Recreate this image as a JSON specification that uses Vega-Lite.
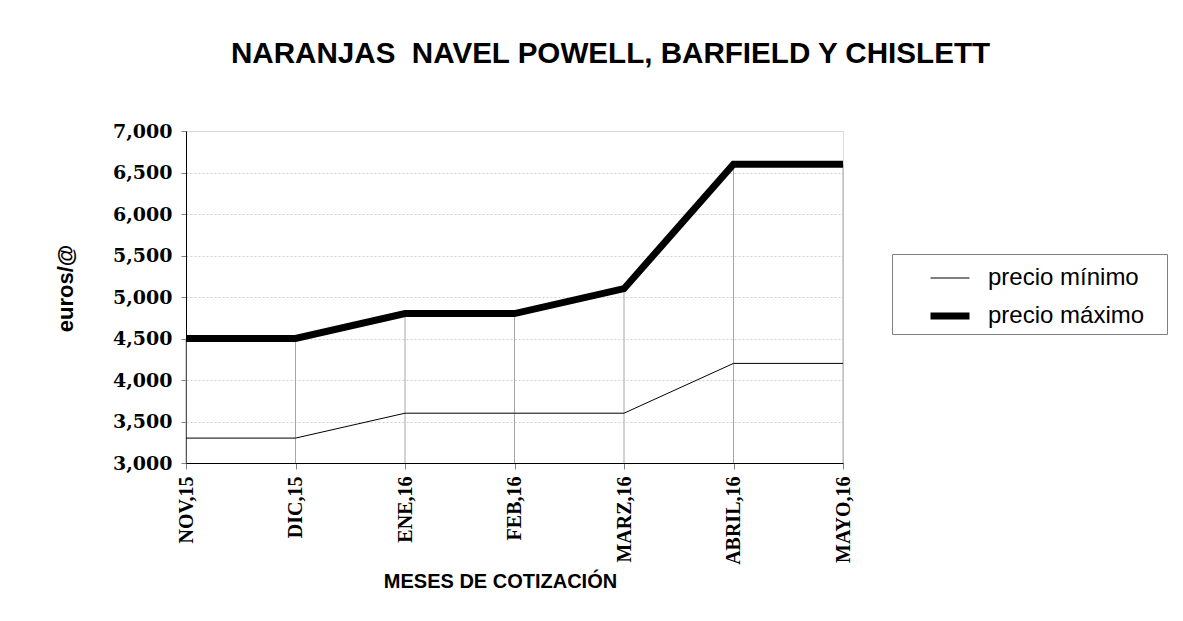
{
  "$schema": "https://vega.github.io/schema/vega-lite/v6.json",
  "autosize": {"type": "none"},
  "padding": {"left": 186, "top": 131, "right": 340, "bottom": 158},
  "width": 657,
  "height": 332,
  "background": "white",
  "title": {
    "text": "NARANJAS\u00a0 NAVEL POWELL, BARFIELD Y CHISLETT",
    "font": "Liberation Sans",
    "fontSize": 29.6,
    "fontWeight": "bold",
    "color": "black",
    "anchor": "middle",
    "frame": "group",
    "dx": 96,
    "offset": 52
  },
  "data": {
    "values": [
      {"mes": "NOV,15", "serie": "precio mínimo", "valor": 3300},
      {"mes": "DIC,15", "serie": "precio mínimo", "valor": 3300},
      {"mes": "ENE,16", "serie": "precio mínimo", "valor": 3600},
      {"mes": "FEB,16", "serie": "precio mínimo", "valor": 3600},
      {"mes": "MARZ,16", "serie": "precio mínimo", "valor": 3600},
      {"mes": "ABRIL,16", "serie": "precio mínimo", "valor": 4200},
      {"mes": "MAYO,16", "serie": "precio mínimo", "valor": 4200},
      {"mes": "NOV,15", "serie": "precio máximo", "valor": 4500},
      {"mes": "DIC,15", "serie": "precio máximo", "valor": 4500},
      {"mes": "ENE,16", "serie": "precio máximo", "valor": 4800},
      {"mes": "FEB,16", "serie": "precio máximo", "valor": 4800},
      {"mes": "MARZ,16", "serie": "precio máximo", "valor": 5100},
      {"mes": "ABRIL,16", "serie": "precio máximo", "valor": 6600},
      {"mes": "MAYO,16", "serie": "precio máximo", "valor": 6600}
    ]
  },
  "encoding": {
    "x": {
      "field": "mes",
      "type": "ordinal",
      "sort": null,
      "scale": {"type": "point", "padding": 0},
      "axis": {
        "title": "MESES DE COTIZACIÓN",
        "titleFont": "Liberation Sans",
        "titleFontSize": 20,
        "titleFontWeight": "bold",
        "titleColor": "black",
        "titleX": 314,
        "titleY": 124,
        "titleBaseline": "alphabetic",
        "labelAngle": -90,
        "labelFont": "Liberation Serif",
        "labelFontSize": 20,
        "labelFontWeight": "bold",
        "labelColor": "black",
        "labelPadding": 7,
        "tickSize": 6,
        "tickColor": "#808080",
        "domainColor": "black",
        "grid": false
      }
    },
    "y": {
      "field": "valor",
      "type": "quantitative",
      "scale": {"domain": [3000, 7000], "nice": false, "zero": false},
      "axis": {
        "title": "euros/@",
        "titleFont": "Liberation Sans",
        "titleFontSize": 22,
        "titleFontWeight": "bold",
        "titleColor": "black",
        "titleX": -121,
        "titleY": 157,
        "titleBaseline": "middle",
        "values": [3000, 3500, 4000, 4500, 5000, 5500, 6000, 6500, 7000],
        "format": ",d",
        "labelFont": "DejaVu Serif",
        "labelFontSize": 19,
        "labelFontWeight": "bold",
        "labelColor": "black",
        "labelPadding": 9,
        "tickSize": 5,
        "tickColor": "#808080",
        "domainColor": "black",
        "grid": true,
        "gridColor": "#d0d0d0",
        "gridDash": [2, 2],
        "gridWidth": 1
      }
    }
  },
  "layer": [
    {
      "transform": [{"filter": "datum.serie == 'precio máximo'"}],
      "mark": {"type": "rule", "color": "#a6a6a6", "strokeWidth": 1},
      "encoding": {
        "y2": {"datum": 3000}
      }
    },
    {
      "mark": {"type": "line", "strokeJoin": "miter"},
      "encoding": {
        "color": {
          "field": "serie",
          "type": "nominal",
          "scale": {"domain": ["precio mínimo", "precio máximo"], "range": ["black", "black"]},
          "legend": {
            "title": null,
            "orient": "none",
            "legendX": 706,
            "legendY": 123,
            "symbolType": "stroke",
            "symbolSize": 1521,
            "symbolOffset": 31,
            "labelFont": "Liberation Sans",
            "labelFontSize": 24,
            "labelColor": "black",
            "labelLimit": 400,
            "labelExpr": "datum.label + '\u2800'",
            "strokeColor": "#808080",
            "padding": 4,
            "rowPadding": 3,
            "labelOffset": 15
          }
        },
        "strokeWidth": {
          "field": "serie",
          "type": "nominal",
          "scale": {"domain": ["precio mínimo", "precio máximo"], "range": [1, 7]},
          "legend": null
        }
      }
    }
  ]
}
